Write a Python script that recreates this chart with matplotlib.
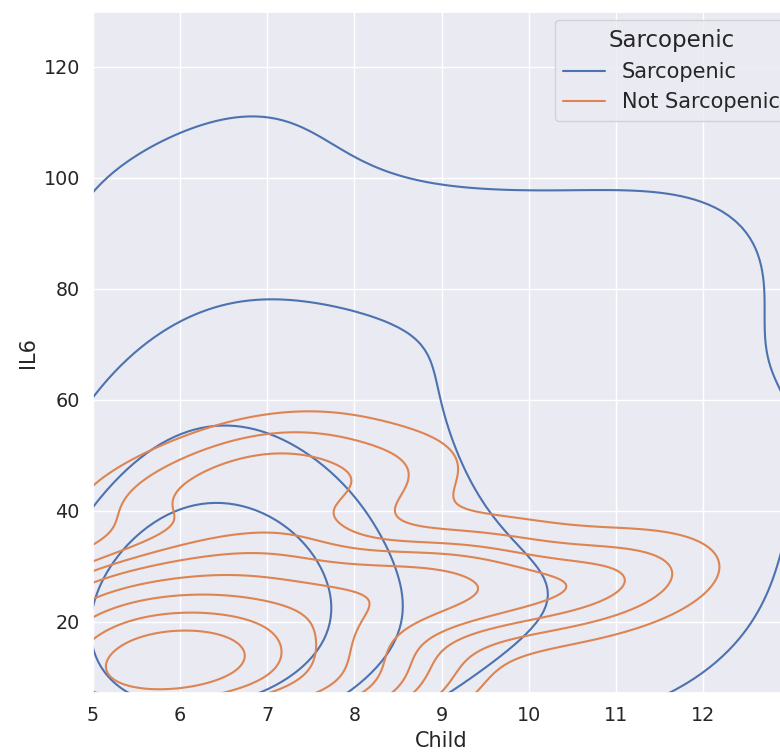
import numpy as np
import pandas as pd
import matplotlib
matplotlib.use("Agg")
import matplotlib.pyplot as plt
import seaborn as sns

# Sarcopenic patients (Child score, IL6)
sarc_child = [5, 5, 5, 5, 5, 5, 5,
              6, 6, 6, 6, 6, 6, 6, 6,
              7, 7, 7, 7, 7, 7, 7, 7,
              8, 8, 8, 8,
              9, 9, 9, 10, 10, 11, 11, 11, 12, 12, 13]
sarc_il6 = [5, 12, 22, 28, 35, 60, 95,
            5, 10, 15, 20, 52, 30, 45, 70,
            6, 12, 22, 30, 35, 55, 85, 110,
            8, 18, 40, 70,
            15, 50, 85, 25, 75, 15, 45, 80, 25, 85, 55]

# Not sarcopenic patients
not_child = [5, 5, 5, 5, 5, 5, 6, 6, 6, 6, 6, 6, 6, 6, 6, 7, 6, 5,
             7, 7, 7, 8, 8, 7,
             5, 6, 7, 7,
             6, 7, 8,
             8, 8, 9, 9, 10, 11]
not_il6 = [6, 9, 11, 13, 15, 18, 7, 10, 12, 14, 16, 19, 13, 11, 9, 10, 22, 21,
           8, 12, 16, 10, 6, 20,
           25, 28, 33, 26,
           42, 49, 45,
           22, 27, 24, 29, 25, 27]

groups = ["Sarcopenic", "Not Sarcopenic"]

df = pd.DataFrame({
    "Child": sarc_child + not_child,
    "IL6": sarc_il6 + not_il6,
    "Sarcopenic": [groups[0]] * len(sarc_child) + [groups[1]] * len(not_child),
})

sns.set_theme(font_scale=1.25)

fig = plt.figure(figsize=(7.8, 7.52), dpi=100)
ax = fig.add_axes([93 / 780, 59 / 752, 697 / 780, 681 / 752])
sns.kdeplot(data=df, x="Child", y="IL6", hue="Sarcopenic", hue_order=groups, ax=ax)
ax.set_xlim(5, 13.0)
ax.set_ylim(7.2, 129.9)
ax.set_yticks([20, 40, 60, 80, 100, 120])
ax.set_xticks([5, 6, 7, 8, 9, 10, 11, 12])
sns.move_legend(ax, "upper right", bbox_to_anchor=(0.997, 0.988), borderaxespad=0,
                fontsize=15, title_fontsize=16.5)

fig.savefig("out.png", dpi=100)
